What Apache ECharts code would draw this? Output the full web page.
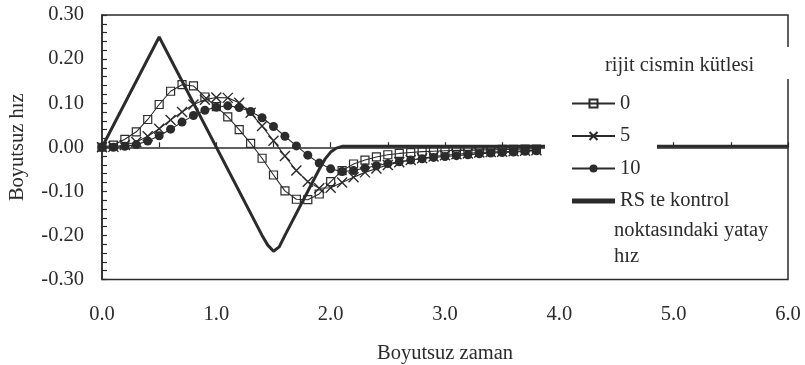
<!DOCTYPE html>
<html>
<head>
<meta charset="utf-8">
<script src="https://cdn.jsdelivr.net/npm/echarts/dist/echarts.min.js"></script>
<style>html,body{margin:0;padding:0;background:#fff;}#c{width:805px;height:365px;}</style>
</head>
<body>
<div id="c"></div>
<script>
var timeSteps = [0,0.1,0.2,0.3,0.4,0.5,0.6,0.7,0.8,0.9,1.0,1.1,1.2,1.3,1.4,1.5,1.6,1.7,1.8,1.9,2.0,2.1,2.2,2.3,2.4,2.5,2.6,2.7,2.8,2.9,3.0,3.1,3.2,3.3,3.4,3.5,3.6,3.7,3.8];
var mass0 = [0,0.005,0.018,0.035,0.063,0.097,0.127,0.142,0.139,0.114,0.092,0.069,0.040,0.009,-0.025,-0.063,-0.099,-0.118,-0.119,-0.106,-0.078,-0.053,-0.038,-0.029,-0.022,-0.017,-0.014,-0.012,-0.010,-0.009,-0.008,-0.007,-0.007,-0.006,-0.006,-0.005,-0.005,-0.004,-0.004];
var mass5 = [0,0.001,0.005,0.012,0.025,0.042,0.062,0.080,0.097,0.108,0.113,0.112,0.101,0.078,0.048,0.015,-0.020,-0.053,-0.078,-0.093,-0.092,-0.080,-0.068,-0.057,-0.048,-0.040,-0.034,-0.029,-0.025,-0.021,-0.018,-0.016,-0.014,-0.012,-0.011,-0.010,-0.009,-0.008,-0.007];
var mass10 = [0,0.000,0.002,0.006,0.014,0.026,0.041,0.057,0.072,0.084,0.091,0.094,0.090,0.081,0.067,0.047,0.025,0.003,-0.018,-0.036,-0.049,-0.055,-0.053,-0.047,-0.042,-0.037,-0.033,-0.029,-0.026,-0.023,-0.021,-0.019,-0.017,-0.015,-0.013,-0.012,-0.011,-0.009,-0.008];
var rsTime = [0,0.5,1.4,1.45,1.5,1.55,1.6,1.9,1.95,2.0,2.05,2.1,6.0];
var rsValue = [0,0.25,-0.2,-0.222,-0.236,-0.226,-0.2,-0.05,-0.027,-0.011,-0.002,0.002,0.002];
var seriesNames = ['0','5','10','RS te kontrol'];
var legendTitle = 'rijit cismin kütlesi';
var legendExtraLines = ['noktasındaki yatay','hız'];
var xAxisTitle = 'Boyutsuz zaman';
var yAxisTitle = 'Boyutsuz hız';

function pairs(xs, ys){ return xs.map(function(x,i){ return [x, ys[i]]; }); }

var FONT = "'Liberation Serif','Times New Roman',serif";
var FS = 20.5;
var INK = '#2b2b2b';

var chart = echarts.init(document.getElementById('c'), null, {renderer:'canvas'});
var thinLine = {color: INK, width: 1.1};
chart.setOption({
  animation: false,
  backgroundColor: '#fff',
  textStyle: {fontFamily: FONT, color: INK},
  grid: {left: 102, right: 17, top: 15, bottom: 85.5, containLabel: false, outerBoundsMode: 'none', show: true, borderColor: INK, borderWidth: 1.5, backgroundColor: 'transparent'},
  xAxis: {
    type: 'value', min: 0, max: 6, interval: 1,
    name: xAxisTitle, nameLocation: 'middle', nameGap: 64,
    nameTextStyle: {fontFamily: FONT, fontSize: FS, color: INK},
    axisLine: {lineStyle: {color: INK, width: 1.5}},
    axisTick: {inside: true, length: 5, lineStyle: {color: INK, width: 1.2}},
    minorTick: {show: true, splitNumber: 2, length: 5, lineStyle: {color: INK, width: 1.2}},
    splitLine: {show: false},
    axisLabel: {margin: 25, fontFamily: FONT, fontSize: FS, color: INK, formatter: function(v){ return v.toFixed(1); }}
  },
  yAxis: {
    type: 'value', min: -0.3, max: 0.3, interval: 0.1,
    name: yAxisTitle, nameLocation: 'middle', nameGap: 74, nameRotate: 90,
    nameTextStyle: {fontFamily: FONT, fontSize: FS, color: INK},
    axisLine: {show: true, lineStyle: {color: INK, width: 1.5}},
    axisTick: {show: true, inside: true, length: 5, lineStyle: {color: INK, width: 1.2}},
    minorTick: {show: true, splitNumber: 5, length: 5, lineStyle: {color: INK, width: 1.2}},
    splitLine: {show: false},
    axisLabel: {margin: 18, padding: [3, 0, 0, 0], fontFamily: FONT, fontSize: FS, color: INK, formatter: function(v){ return v.toFixed(2); }}
  },
  legend: {
    orient: 'vertical', left: 566, top: 88, z: 20,
    itemWidth: 43, itemHeight: 10, itemGap: 11.5,
    textStyle: {fontFamily: FONT, fontSize: FS, color: INK, lineHeight: 20},
    data: [
      {name: seriesNames[0]},
      {name: seriesNames[1]},
      {name: seriesNames[2]},
      {name: seriesNames[3], icon: 'path://M0 0H43V5H0Z', itemStyle: {color: INK}}
    ]
  },
  graphic: [
    {type: 'rect', z: 10, shape: {x: 545, y: 80, width: 112, height: 192}, style: {fill: '#fff'}},
    {type: 'rect', z: 10, shape: {x: 596, y: 47, width: 205, height: 32}, style: {fill: '#fff'}},
    {type: 'text', z: 20, x: 605, y: 66, style: {text: legendTitle, font: FS + "px " + FONT, fill: INK, textVerticalAlign: 'middle'}},
    {type: 'text', z: 20, x: 614, y: 231, style: {text: legendExtraLines[0], font: FS + "px " + FONT, fill: INK, textVerticalAlign: 'middle'}},
    {type: 'text', z: 20, x: 614, y: 257, style: {text: legendExtraLines[1], font: FS + "px " + FONT, fill: INK, textVerticalAlign: 'middle'}}
  ],
  series: [
    {name: seriesNames[0], type: 'line', data: pairs(timeSteps, mass0), symbol: 'rect', symbolSize: 8,
     lineStyle: thinLine, itemStyle: {color: 'rgba(255,255,255,0)', borderColor: INK, borderWidth: 1.2}},
    {name: seriesNames[1], type: 'line', data: pairs(timeSteps, mass5), symbol: 'path://M0 0L10 10M10 0L0 10', symbolSize: 10,
     lineStyle: thinLine, itemStyle: {color: 'rgba(255,255,255,0)', borderColor: INK, borderWidth: 1.4}},
    {name: seriesNames[2], type: 'line', data: pairs(timeSteps, mass10), symbol: 'circle', symbolSize: 9,
     lineStyle: thinLine, itemStyle: {color: INK, borderColor: INK, borderWidth: 0}},
    {name: seriesNames[3], type: 'line', data: pairs(rsTime, rsValue), symbol: 'none',
     lineStyle: {color: INK, width: 3}, itemStyle: {color: INK}}
  ]
});
</script>
</body>
</html>
